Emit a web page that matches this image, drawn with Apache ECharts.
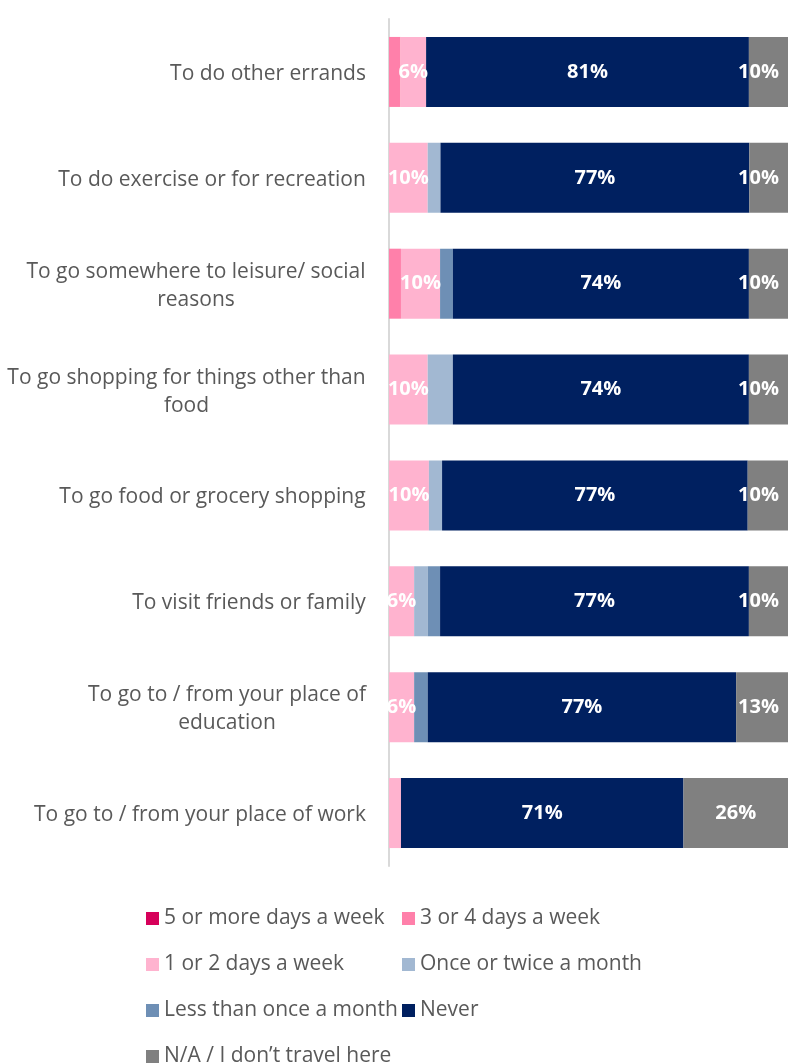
<!DOCTYPE html>
<html>
<head>
<meta charset="utf-8">
<script src="https://cdn.jsdelivr.net/npm/echarts@6/dist/echarts.min.js"></script>
<style>
html,body{margin:0;padding:0;background:#fff;}
#c{width:794px;height:1064px;}
</style>
</head>
<body>
<div id="c"></div>
<script>
const categories = [
  "To do other errands",
  "To do exercise or for recreation",
  "To go somewhere to leisure/ social\nreasons",
  "To go shopping for things other than\nfood",
  "To go food or grocery shopping",
  "To visit friends or family",
  "To go to / from your place of\neducation",
  "To go to / from your place of work"
];
const seriesNames = [
  "5 or more days a week",
  "3 or 4 days a week",
  "1 or 2 days a week",
  "Once or twice a month",
  "Less than once a month",
  "Never",
  "N/A / I don\u2019t travel here"
];
const fiveOrMore   = [0, 0, 0, 0, 0, 0, 0, 0];
const threeOrFour  = [2.9, 0, 3.0, 0, 0, 0, 0, 0];
const oneOrTwo     = [6.4, 9.7, 9.8, 9.7, 10.0, 6.3, 6.3, 3.0];
const onceTwiceMon = [0, 3.2, 0, 6.3, 3.3, 3.4, 0, 0];
const lessThanMon  = [0, 0, 3.2, 0, 0, 3.1, 3.4, 0];
const never        = [80.9, 77.4, 74.2, 74.2, 76.6, 77.4, 77.3, 70.8];
const notApplic    = [9.8, 9.7, 9.8, 9.8, 10.1, 9.8, 13.0, 26.2];

const seriesData = [fiveOrMore, threeOrFour, oneOrTwo, onceTwiceMon, lessThanMon, never, notApplic];
const colors = ["#D6005A", "#FF80AA", "#FFB3CF", "#A2B8D2", "#6E8FB5", "#002060", "#808080"];
const labelled = [false, false, true, false, false, true, true];

const FONT = "'Open Sans', 'Noto Sans', sans-serif";
const catFontSize = 21;

const cv = document.createElement('canvas').getContext('2d');
cv.font = catFontSize + "px " + FONT;
const rich = {};
categories.forEach((c, i) => {
  const w = Math.max(...c.split('\n').map(l => cv.measureText(l).width));
  rich['c' + i] = { width: Math.ceil(w), align: 'center', fontSize: catFontSize, fontFamily: FONT, color: '#595959', lineHeight: 28, padding: [4, 0, 0, 0] };
});

const legendText = { fontSize: 21, color: '#595959', fontFamily: FONT, padding: 0 };

function makeData(vals, i) {
  if (i !== 6) return vals;
  // last segment: keep short labels inside the plot's right edge
  return vals.map(v => v < 20 ? { value: v, label: { position: 'insideRight', distance: 9 } } : v);
}

const chart = echarts.init(document.getElementById('c'));
chart.setOption({
  animation: false,
  backgroundColor: '#fff',
  grid: { left: 389, right: 6, top: 19, bottom: 198, containLabel: false },
  xAxis: {
    type: 'value', min: 0, max: 100,
    axisLabel: { show: false }, splitLine: { show: false },
    axisLine: { show: false }, axisTick: { show: false }
  },
  yAxis: {
    type: 'category', data: categories, inverse: true,
    axisLine: { show: true, lineStyle: { color: '#D9D9D9', width: 2 } },
    axisTick: { show: false },
    axisLabel: {
      margin: 23,
      formatter: function (v, idx) {
        return v.split('\n').map(l => '{c' + idx + '|' + l + '}').join('\n');
      },
      rich: rich
    }
  },
  legend: [
    {
      data: [seriesNames[0], seriesNames[2], seriesNames[4], seriesNames[6]],
      orient: 'vertical', left: 146, top: 908, height: 200, padding: 0, itemGap: 25,
      icon: 'rect', itemWidth: 13, itemHeight: 13,
      textStyle: legendText
    },
    {
      data: [seriesNames[1], seriesNames[3], seriesNames[5]],
      orient: 'vertical', left: 402, top: 908, height: 200, padding: 0, itemGap: 25,
      icon: 'rect', itemWidth: 13, itemHeight: 13,
      textStyle: legendText
    }
  ],
  series: seriesNames.map((n, i) => ({
    name: n, type: 'bar', stack: 'all',
    data: makeData(seriesData[i], i),
    barWidth: 70,
    itemStyle: { color: colors[i] },
    label: {
      show: labelled[i], position: 'inside',
      color: '#fff', fontWeight: 'bold', fontSize: 20, fontFamily: FONT,
      formatter: p => (p.value >= 5 ? Math.round(p.value) + '%' : '')
    },
    emphasis: { disabled: true }
  }))
});
</script>
</body>
</html>
